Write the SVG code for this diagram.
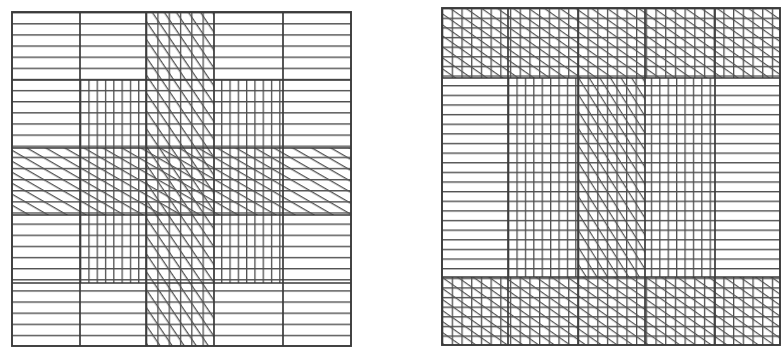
<svg xmlns="http://www.w3.org/2000/svg" width="782" height="352" viewBox="0 0 782 352">
<style>
.frame{fill:none;stroke:#3a3a3a;stroke-width:1.9}
.div{stroke:#3a3a3a;stroke-width:1.7}
</style>
<defs>
<pattern id="hL" patternUnits="userSpaceOnUse" x="12" y="12" width="20" height="11.13"><rect width="20" height="1.4" fill="#4f4f4f"/></pattern>
<pattern id="vLg" patternUnits="userSpaceOnUse" x="80" y="0" width="8.3" height="20"><rect width="1.3" height="20" fill="#4f4f4f"/></pattern>
<pattern id="vLd" patternUnits="userSpaceOnUse" x="146" y="0" width="11.3" height="20"><rect width="1.3" height="20" fill="#4f4f4f"/></pattern>
<pattern id="dSh" patternUnits="userSpaceOnUse" x="0" y="0" width="20" height="9.5" patternTransform="rotate(30)"><rect width="20" height="1.3" fill="#555"/></pattern>
<pattern id="dSt" patternUnits="userSpaceOnUse" x="0" y="0" width="20" height="10" patternTransform="rotate(56)"><rect width="20" height="1.3" fill="#555"/></pattern>
<pattern id="hR" patternUnits="userSpaceOnUse" x="442" y="8" width="20" height="9.63"><rect width="20" height="1.4" fill="#4f4f4f"/></pattern>
<pattern id="vRt" patternUnits="userSpaceOnUse" x="442" y="0" width="9.7" height="20"><rect width="1.3" height="20" fill="#4f4f4f"/></pattern>
<pattern id="vRg" patternUnits="userSpaceOnUse" x="508" y="0" width="8.4" height="20"><rect width="1.3" height="20" fill="#4f4f4f"/></pattern>
<pattern id="vRd" patternUnits="userSpaceOnUse" x="578" y="0" width="9.6" height="20"><rect width="1.3" height="20" fill="#4f4f4f"/></pattern>
<pattern id="dShR" patternUnits="userSpaceOnUse" x="0" y="0" width="20" height="9" patternTransform="rotate(35)"><rect width="20" height="1.2" fill="#555"/></pattern>
<pattern id="dStR" patternUnits="userSpaceOnUse" x="0" y="0" width="20" height="9" patternTransform="rotate(58)"><rect width="20" height="1.2" fill="#555"/></pattern>
</defs>
<rect width="782" height="352" fill="#ffffff"/>

<g id="left-square">
<rect x="12" y="12" width="339" height="334" fill="url(#hL)"/>
<rect x="80" y="80" width="66" height="203" fill="url(#vLg)"/>
<rect x="214" y="80" width="69" height="203" fill="url(#vLg)"/>
<rect x="146" y="12" width="68" height="334" fill="url(#vLd)"/>
<rect x="146" y="12" width="68" height="334" fill="url(#dSt)"/>
<rect x="12" y="148" width="339" height="67" fill="url(#dSh)"/>
<line class="div" x1="80" y1="12" x2="80" y2="346"/>
<line class="div" x1="146" y1="12" x2="146" y2="346"/>
<line class="div" x1="214" y1="12" x2="214" y2="346"/>
<line class="div" x1="283" y1="12" x2="283" y2="346"/>
<line class="div" x1="12" y1="80" x2="351" y2="80"/>
<line class="div" x1="12" y1="148" x2="351" y2="148"/>
<line class="div" x1="12" y1="215" x2="351" y2="215"/>
<line class="div" x1="12" y1="283" x2="351" y2="283"/>
<rect class="frame" x="12" y="12" width="339" height="334"/>
</g>

<g id="right-square">
<rect x="442" y="8" width="338" height="337" fill="url(#hR)"/>
<rect x="442" y="8" width="338" height="70" fill="url(#vRt)"/>
<rect x="442" y="8" width="338" height="70" fill="url(#dShR)"/>
<rect x="442" y="277" width="338" height="68" fill="url(#vRt)"/>
<rect x="442" y="277" width="338" height="68" fill="url(#dShR)"/>
<rect x="508" y="78" width="70" height="199" fill="url(#vRg)"/>
<rect x="645" y="78" width="70" height="199" fill="url(#vRg)"/>
<rect x="578" y="78" width="67" height="199" fill="url(#vRd)"/>
<rect x="578" y="78" width="67" height="199" fill="url(#dStR)"/>
<line class="div" x1="508" y1="8" x2="508" y2="345"/>
<line class="div" x1="578" y1="8" x2="578" y2="345"/>
<line class="div" x1="645" y1="8" x2="645" y2="345"/>
<line class="div" x1="715" y1="8" x2="715" y2="345"/>
<line class="div" x1="442" y1="78" x2="780" y2="78"/>
<line class="div" x1="442" y1="277" x2="780" y2="277"/>
<rect class="frame" x="442" y="8" width="338" height="337"/>
</g>
</svg>
